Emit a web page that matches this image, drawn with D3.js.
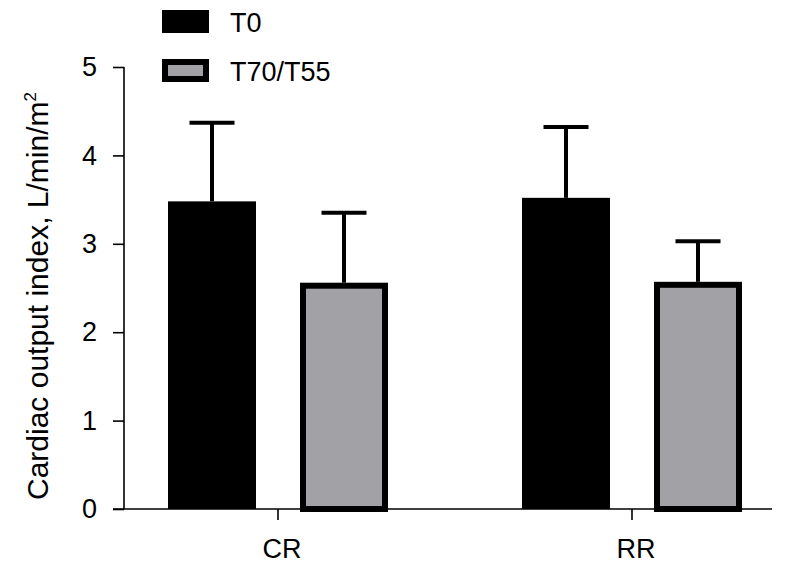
<!DOCTYPE html>
<html><head><meta charset="utf-8">
<script src="https://cdn.jsdelivr.net/npm/d3@7"></script>
<style>body{margin:0;background:#fff}svg{display:block}text{font-family:"Liberation Sans",Arial,Helvetica,sans-serif}</style>
</head><body><svg id="c" width="794" height="570"></svg>
<script>
const groups = ["CR", "RR"];
const series = ["T0", "T70/T55"];
const means = { "T0": [3.48, 3.52], "T70/T55": [2.56, 2.57] };
const upper = { "T0": [4.37, 4.32], "T70/T55": [3.35, 3.03] };
const yTicks = [0, 1, 2, 3, 4, 5];
const fills = { "T0": "#000000", "T70/T55": "#a2a2a6" };

const svg = d3.select("#c");
const y = d3.scaleLinear().domain([0, 5]).range([509, 67]);
const x = d3.scaleBand().domain(groups).range([101, 809]).padding(0);
const xi = d3.scaleBand().domain(series).range([-110, 110]).paddingInner(1/3).paddingOuter(0);

// y axis
const ya = svg.append("g").attr("transform", "translate(124,0)")
  .call(d3.axisLeft(y).tickValues(yTicks).tickSize(11).tickPadding(16).tickFormat(d3.format("d")));
ya.select(".domain").attr("stroke-width", 1.6).attr("d", `M0,${y(5)}V${y(0)}`);
ya.selectAll(".tick line").attr("stroke-width", 1.6);
ya.selectAll(".tick text").attr("font-size", 27).attr("fill", "#000");

// x axis
const xa = svg.append("g").attr("transform", `translate(0,${y(0)})`)
  .call(d3.axisBottom(x).tickSize(11).tickPadding(19));
xa.select(".domain").attr("stroke-width", 1.6).attr("d", "M113,0H772");
xa.selectAll(".tick line").attr("stroke-width", 1.6);
xa.selectAll(".tick text").attr("font-size", 27).attr("fill", "#000").attr("dx", 4);

// bars
const data = [];
groups.forEach((g, gi) => series.forEach(s => data.push({ g, s, m: means[s][gi], u: upper[s][gi] })));
const cx = d => x(d.g) + x.bandwidth() / 2 + xi(d.s);
const bw = xi.bandwidth();

// error bars first
const eb = svg.append("g").attr("stroke", "#000").attr("stroke-width", 4);
data.forEach(d => {
  const mx = cx(d) + bw / 2;
  eb.append("line").attr("x1", mx).attr("x2", mx).attr("y1", y(d.m)).attr("y2", y(d.u));
  eb.append("line").attr("x1", mx - 22.5).attr("x2", mx + 22.5).attr("y1", y(d.u)).attr("y2", y(d.u));
});

svg.append("g").selectAll("rect").data(data).join("rect")
  .attr("x", d => d.s === "T0" ? cx(d) : cx(d) + 3)
  .attr("width", d => d.s === "T0" ? bw : bw - 6)
  .attr("y", d => d.s === "T0" ? y(d.m) : y(d.m) + 3)
  .attr("height", d => d.s === "T0" ? y(0) - y(d.m) : y(0) - y(d.m) - 3)
  .attr("fill", d => fills[d.s])
  .attr("stroke", d => d.s === "T0" ? "none" : "#000")
  .attr("stroke-width", 6);

// legend
const lg = svg.append("g");
series.forEach((s, i) => {
  const yy = 10 + i * 49;
  lg.append("rect").attr("x", s === "T0" ? 162 : 165).attr("y", s === "T0" ? yy : yy + 3)
    .attr("width", s === "T0" ? 47 : 41).attr("height", s === "T0" ? 23 : 17)
    .attr("fill", fills[s]).attr("stroke", s === "T0" ? "none" : "#000").attr("stroke-width", 6);
  lg.append("text").attr("x", 230).attr("y", yy + 22).attr("font-size", 27).text(s);
});

// y title
const t = svg.append("text").attr("transform", "translate(48,296) rotate(-90)")
  .attr("text-anchor", "middle").attr("font-size", 30);
t.append("tspan").text("Cardiac output index, L/min/m");
t.append("tspan").attr("font-size", 17).attr("dy", -12).text("2");
</script></body></html>
